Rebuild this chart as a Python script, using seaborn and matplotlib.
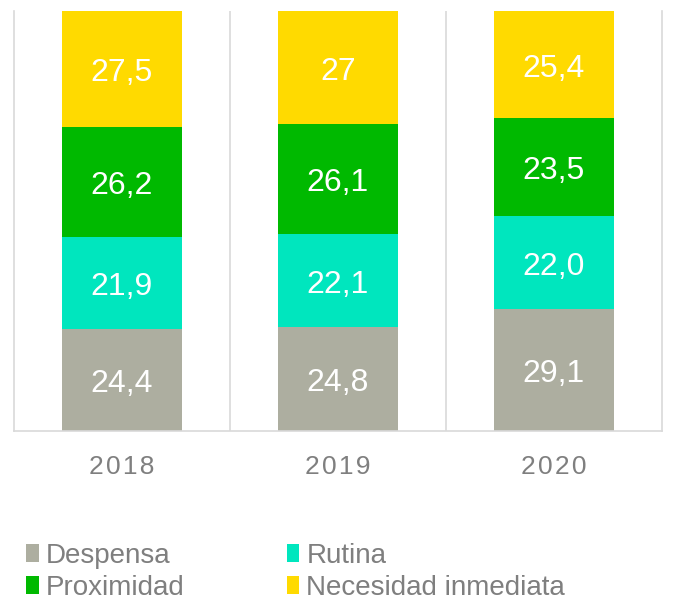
import matplotlib
matplotlib.use("Agg")
import matplotlib.pyplot as plt
from matplotlib.patches import Patch
import seaborn as sns
import pandas as pd
import numpy as np

years = ["2018", "2019", "2020"]
series = ["Despensa", "Rutina", "Proximidad", "Necesidad inmediata"]
despensa = [24.4, 24.8, 29.1]
rutina = [21.9, 22.1, 22.0]
proximidad = [26.2, 26.1, 23.5]
necesidad = [27.5, 27.0, 25.4]
labels = {
    "Despensa": ["24,4", "24,8", "29,1"],
    "Rutina": ["21,9", "22,1", "22,0"],
    "Proximidad": ["26,2", "26,1", "23,5"],
    "Necesidad inmediata": ["27,5", "27", "25,4"],
}
colors = {
    "Despensa": "#ADAEA0",
    "Rutina": "#00E6BE",
    "Proximidad": "#00B900",
    "Necesidad inmediata": "#FFDA00",
}

sns.set_theme(style="white")
plt.rcParams["font.family"] = ["Liberation Sans", "DejaVu Sans"]

df = pd.DataFrame({"year": years, "Despensa": despensa, "Rutina": rutina,
                   "Proximidad": proximidad, "Necesidad inmediata": necesidad})
cum = df[series].cumsum(axis=1)

fig = plt.figure(figsize=(6.87, 6.01), dpi=100)
ax = fig.add_axes([14/687, 1 - 431/601, (662-14)/687, (431-11)/601])

for s in reversed(series):
    sns.barplot(x=df["year"], y=cum[s], color=colors[s], width=0.56,
                saturation=1, ax=ax, order=years, linewidth=0, edgecolor="none")

for s in series:
    bottoms = cum[s] - df[s]
    for i in range(len(years)):
        ax.annotate(labels[s][i], (i, bottoms[i] + df[s][i] / 2),
                    xytext=(0, -3), textcoords="offset points",
                    ha="center", va="center", color="white", fontsize=23)

ax.set_xlim(-0.5, 2.5)
ax.set_ylim(0, 100)
ax.set_xlabel("")
ax.set_ylabel("")
ax.set_yticks([])
for x in [0.5, 1.5]:
    ax.axvline(x, color="#D9D9D9", lw=1.2, zorder=0)
for sp in ["left", "right", "bottom"]:
    ax.spines[sp].set_visible(True)
    ax.spines[sp].set_color("#D9D9D9")
    ax.spines[sp].set_linewidth(1.2)
ax.spines["top"].set_visible(False)
ax.tick_params(axis="x", length=0, pad=17, labelsize=19, labelcolor="#7F7F7F")
ax.set_xticks(range(3))
ax.set_xticklabels(["\u200a".join(y) for y in years])

handles = [Patch(facecolor=colors[s], edgecolor="none", label=s) for s in series]
order = [0, 2, 1, 3]
fig.legend([handles[i] for i in order], [series[i] for i in order],
           ncol=2, loc="upper left", bbox_to_anchor=(26/687, 1 - 543/601),
           frameon=False, fontsize=20, labelcolor="#7F7F7F",
           handlelength=0.45, handleheight=0.6, handletextpad=0.25,
           columnspacing=3.7, labelspacing=0.2, borderpad=0, borderaxespad=0)

fig.savefig("out.png", dpi=100)
